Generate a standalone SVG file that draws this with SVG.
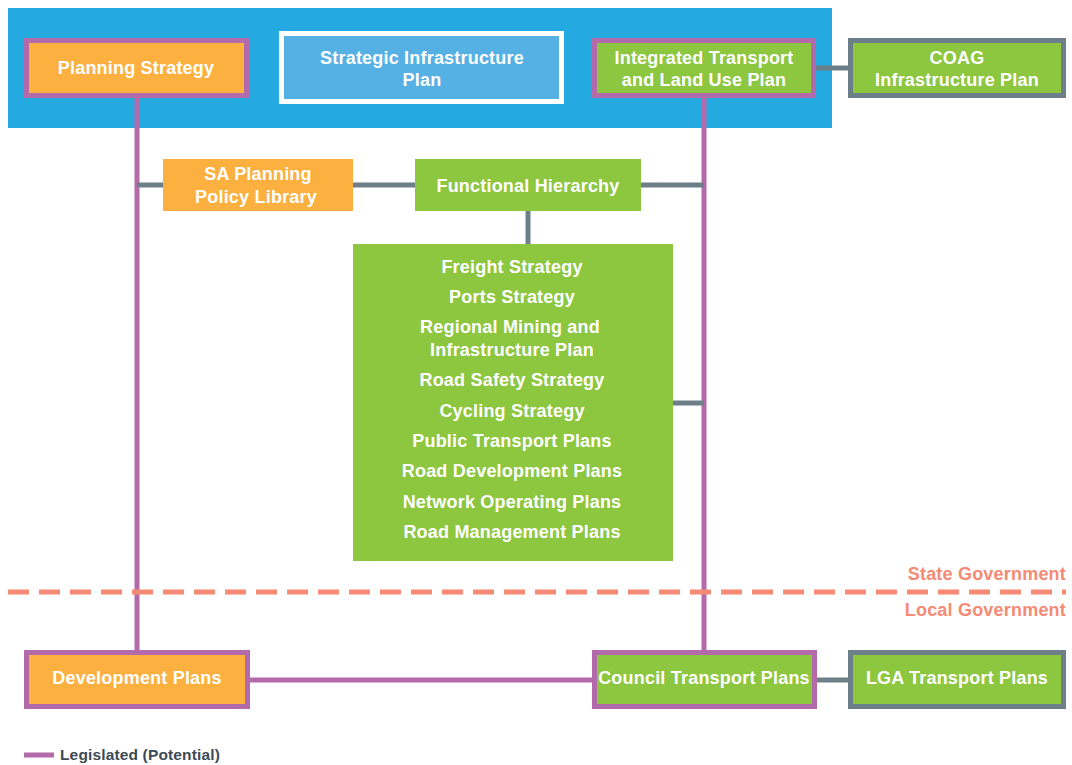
<svg xmlns="http://www.w3.org/2000/svg" width="1072" height="765" viewBox="0 0 1072 765">
<style>
text{font-family:"Liberation Sans",Arial,sans-serif;font-weight:bold;font-size:18px;letter-spacing:0.2px;fill:#ffffff;text-anchor:middle}
.leg{stroke:#B36AAA;stroke-width:5;fill:none}
.gry{stroke:#6D7F88;stroke-width:5;fill:none}
.org{fill:#FBB040}
.grn{fill:#8DC63F}
.pb{stroke:#B36AAA;stroke-width:5}
.gb{stroke:#6D7F88;stroke-width:5}
.gov{fill:#F58A75;text-anchor:end}
</style>
<rect id="state-band" x="8" y="8" width="824" height="120" fill="#24A9E1"/>
<g id="connectors">
<line class="leg" x1="137" y1="96" x2="137" y2="652"/>
<line class="leg" x1="704" y1="96" x2="704" y2="652"/>
<line class="leg" x1="248" y1="680" x2="595" y2="680"/>
<line class="gry" x1="814" y1="68" x2="851" y2="68"/>
<line class="gry" x1="137" y1="185" x2="163" y2="185"/>
<line class="gry" x1="353" y1="185" x2="415" y2="185"/>
<line class="gry" x1="641" y1="185" x2="704" y2="185"/>
<line class="gry" x1="528" y1="211" x2="528" y2="244"/>
<line class="gry" x1="673" y1="403" x2="704" y2="403"/>
<line class="gry" x1="815" y1="680" x2="851" y2="680"/>
</g>
<g id="planning-strategy">
<rect class="org pb" x="26.5" y="40.5" width="220" height="55"/>
<text x="136" y="74">Planning Strategy</text>
</g>
<g id="strategic-infrastructure-plan">
<rect x="281.5" y="33.5" width="280" height="68" fill="#55B1E4" stroke="#ffffff" stroke-width="5"/>
<text x="422" y="64">Strategic Infrastructure</text>
<text x="422" y="86">Plan</text>
</g>
<g id="itlup">
<rect class="grn pb" x="594.5" y="40.5" width="219" height="55"/>
<text x="704" y="64">Integrated Transport</text>
<text x="704" y="86">and Land Use Plan</text>
</g>
<g id="coag">
<rect class="grn gb" x="850.5" y="40.5" width="213" height="55"/>
<text x="957" y="64">COAG</text>
<text x="957" y="86">Infrastructure Plan</text>
</g>
<g id="sa-planning-policy-library">
<rect class="org" x="163" y="159" width="190" height="52"/>
<text x="258" y="180">SA Planning</text>
<text x="256" y="203">Policy Library</text>
</g>
<g id="functional-hierarchy">
<rect class="grn" x="415" y="159" width="226" height="52"/>
<text x="528" y="192">Functional Hierarchy</text>
</g>
<g id="strategies">
<rect class="grn" x="353" y="244" width="320" height="317"/>
<text x="512" y="273">Freight Strategy</text>
<text x="512" y="303">Ports Strategy</text>
<text x="510" y="333">Regional Mining and</text>
<text x="512" y="356">Infrastructure Plan</text>
<text x="512" y="386">Road Safety Strategy</text>
<text x="512" y="417">Cycling Strategy</text>
<text x="512" y="447">Public Transport Plans</text>
<text x="512" y="477">Road Development Plans</text>
<text x="512" y="508">Network Operating Plans</text>
<text x="512" y="538">Road Management Plans</text>
</g>
<g id="government-divider">
<line x1="8" y1="592" x2="1066" y2="592" stroke="#F58A75" stroke-width="5" stroke-dasharray="21 10"/>
<text class="gov" x="1066" y="580">State Government</text>
<text class="gov" x="1066" y="616">Local Government</text>
</g>
<g id="development-plans">
<rect class="org pb" x="26.5" y="652.5" width="221" height="54"/>
<text x="137" y="684">Development Plans</text>
</g>
<g id="council-transport-plans">
<rect class="grn pb" x="594.5" y="652.5" width="220" height="54"/>
<text x="704" y="684">Council Transport Plans</text>
</g>
<g id="lga-transport-plans">
<rect class="grn gb" x="850.5" y="652.5" width="213" height="54"/>
<text x="957" y="684">LGA Transport Plans</text>
</g>
<g id="legend">
<line class="leg" x1="24" y1="755" x2="54" y2="755"/>
<text x="60" y="760" style="fill:#3D4A55;font-size:15.5px;letter-spacing:0.15px;text-anchor:start">Legislated (Potential)</text>
</g>
</svg>
